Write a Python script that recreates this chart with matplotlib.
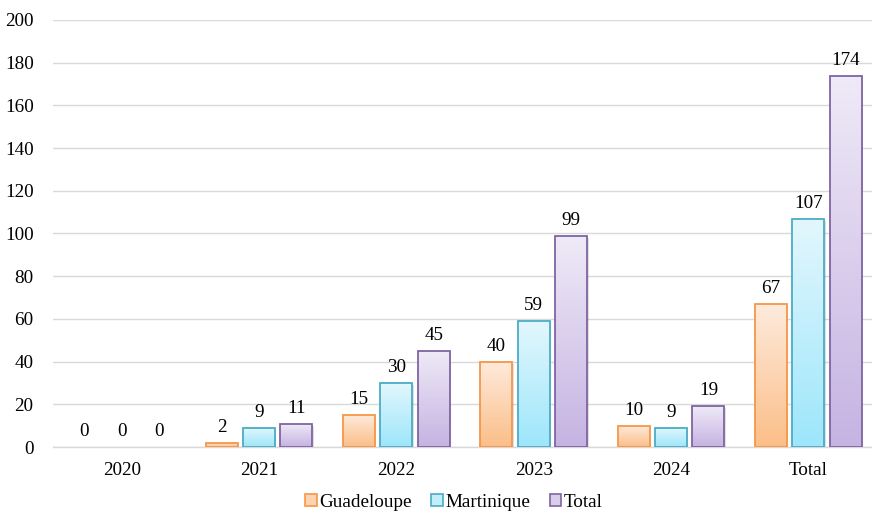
import matplotlib
matplotlib.use("Agg")
import matplotlib.pyplot as plt
import numpy as np
from matplotlib.colors import LinearSegmentedColormap
from matplotlib.patches import Rectangle

categories = ["2020", "2021", "2022", "2023", "2024", "Total"]
series_names = ["Guadeloupe", "Martinique", "Total"]
guadeloupe = [0, 2, 15, 40, 10, 67]
martinique = [0, 9, 30, 59, 9, 107]
total = [0, 11, 45, 99, 19, 174]
yticks = [0, 20, 40, 60, 80, 100, 120, 140, 160, 180, 200]

series = [guadeloupe, martinique, total]
tops = ["#FEEBDD", "#E3F7FD", "#EFEAF7"]
bottoms = ["#FBBE88", "#9DE6FB", "#C5B3E2"]
mids = ["#FCD4B2", "#C0EEFB", "#DACDEC"]
edges = ["#F79646", "#4BACC6", "#8064A2"]

plt.rcParams['font.family'] = ['Liberation Serif', 'DejaVu Serif']
FS = 13.8

W, H = 872, 514
fig = plt.figure(figsize=(W/100, H/100), dpi=100)
ax = fig.add_axes([53/W, 1-447/H, (877-53)/W, (447-20)/H])

x = np.arange(len(categories))
width = 0.233
offset = 0.273

ax.set_xlim(-0.5, len(categories)-0.5)
ax.set_ylim(0, 200)

grad = np.linspace(0, 1, 256).reshape(-1, 1)
for i, (vals, t, b, e) in enumerate(zip(series, tops, bottoms, edges)):
    cmap = LinearSegmentedColormap.from_list(f"g{i}", [b, t])
    xs = x + (i-1)*offset
    for xi, v in zip(xs, vals):
        if v > 0:
            x0 = xi - width/2
            shadow = Rectangle((x0, 0), width, v, facecolor='#000000', alpha=0.12,
                               edgecolor='none', zorder=2,
                               transform=ax.transData + matplotlib.transforms.ScaledTranslation(1.5/100, -2/100, fig.dpi_scale_trans))
            ax.add_patch(shadow)
            rect = ax.bar([xi], [v], width, color='none', edgecolor=e, linewidth=1.3, zorder=4)[0]
            im = ax.imshow(grad, extent=[x0, x0+width, 0, v], origin='lower', aspect='auto',
                           cmap=cmap, zorder=3)
            im.set_clip_path(rect)
        ax.annotate(str(v), (xi, v), xytext=(0, 5), textcoords='offset points',
                    ha='center', va='bottom', fontsize=FS, color='#000000', zorder=5)

ax.set_xlim(-0.5, len(categories)-0.5)
ax.set_ylim(0, 200)
ax.set_yticks(yticks)
ax.set_yticklabels([str(v) for v in yticks], fontsize=FS)
ax.set_xticks(x)
ax.set_xticklabels(categories, fontsize=FS)
ax.tick_params(axis='both', length=0)
ax.tick_params(axis='y', pad=14)
ax.tick_params(axis='x', pad=10.5)
ax.grid(axis='y', color='#D9D9D9', linewidth=1.0, zorder=0)
ax.set_axisbelow(True)
for s in ['top', 'right', 'left']:
    ax.spines[s].set_visible(False)
ax.spines['bottom'].set_color('#D9D9D9')
ax.spines['bottom'].set_linewidth(1.0)

handles = [Rectangle((0, 0), 1, 1, facecolor=m, edgecolor=e, linewidth=1.2)
           for m, e in zip(mids, edges)]
fig.legend(handles, series_names, loc='lower center', bbox_to_anchor=(454/W, -0.028),
           ncol=3, frameon=False, fontsize=FS, handlelength=0.6, handleheight=0.6,
           handletextpad=0.15, columnspacing=1.0)

fig.savefig("out.png", dpi=100)
